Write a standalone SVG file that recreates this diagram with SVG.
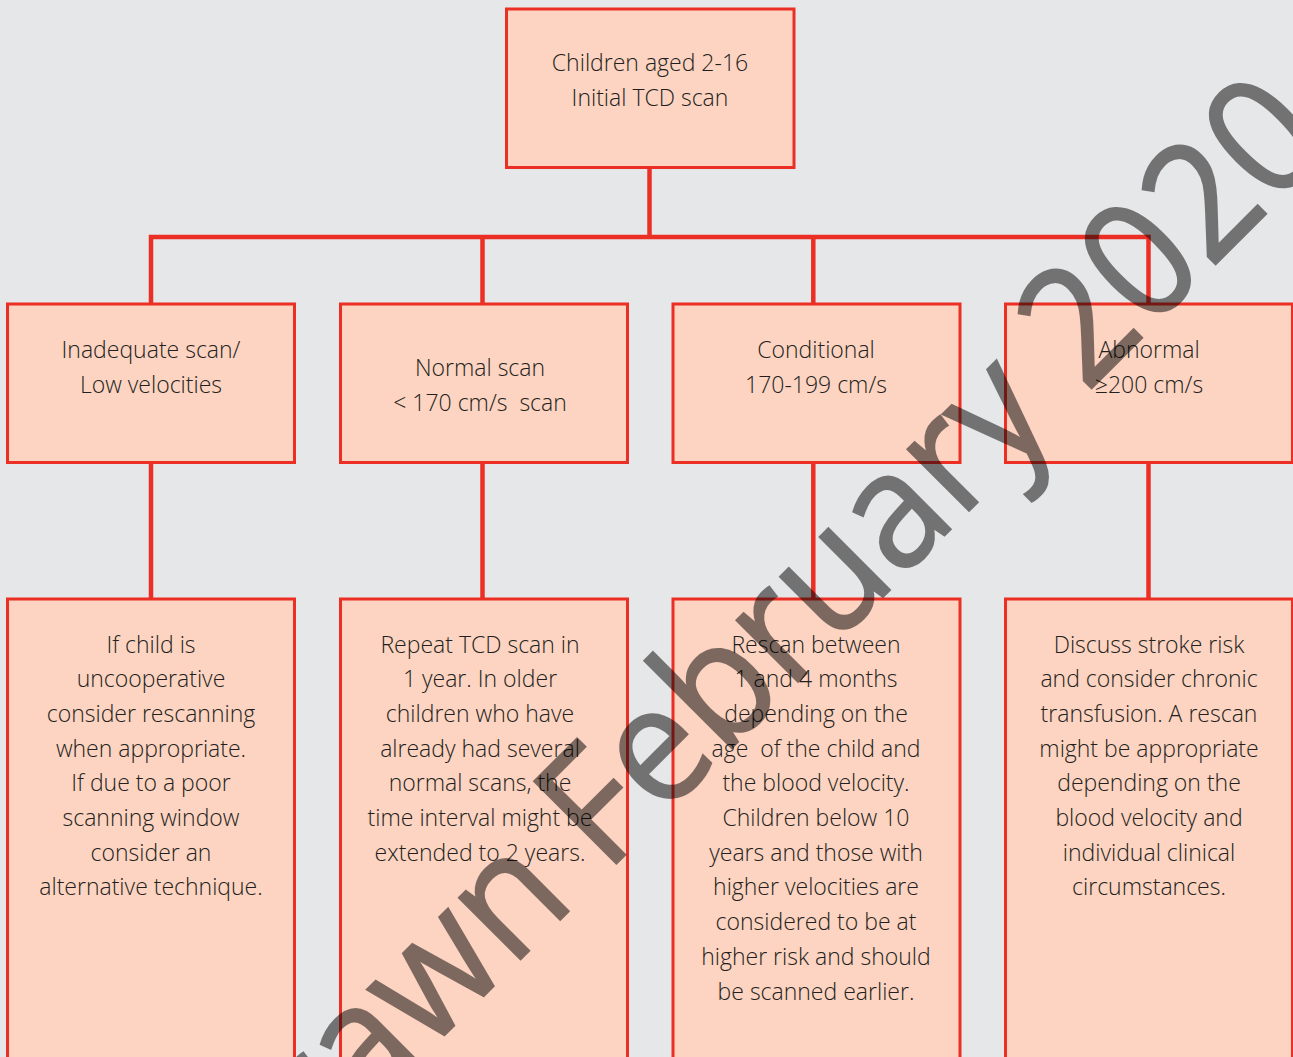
<svg xmlns="http://www.w3.org/2000/svg" width="1293" height="1057" viewBox="0 0 1293 1057">
<style>
.bg{fill:#e6e7e9}
.box{fill:#fdd3c1;stroke:#ec2f25;stroke-width:3}
.con{fill:none;stroke:#ec2f25;stroke-width:4.5;stroke-linejoin:miter}
.t{font-family:"Open Sans","Liberation Sans",sans-serif;font-weight:300;font-size:23px;fill:#231f20;text-anchor:middle}
.wm{font-family:"Open Sans","Liberation Sans",sans-serif;font-weight:400;font-size:163px;fill:#000;stroke:#000;stroke-width:2}
</style>
<rect class="bg" x="0" y="0" width="1293" height="1057"/>
<g id="connectors">
<path class="con" d="M649.5 167.5 V237"/>
<path class="con" d="M151 304 V237 H1148.5 V304"/>
<path class="con" d="M482.5 237 V304"/>
<path class="con" d="M813.3 237 V304"/>
<path class="con" d="M151 462.5 V599"/>
<path class="con" d="M482.5 462.5 V599"/>
<path class="con" d="M813.3 462.5 V599"/>
<path class="con" d="M1148.5 462.5 V599"/>
</g>
<g id="n0">
<rect class="box" x="506.5" y="9" width="287.5" height="158.5"/>
<text class="t" x="650" y="71">Children aged 2-16</text>
<text class="t" x="650" y="106">Initial TCD scan</text>
</g>
<g id="n1">
<rect class="box" x="7.5" y="304" width="287" height="158.5"/>
<text class="t" x="151" y="358">Inadequate scan/</text>
<text class="t" x="151" y="393">Low velocities</text>
</g>
<g id="n2">
<rect class="box" x="340.5" y="304" width="287" height="158.5"/>
<text class="t" x="480" y="376">Normal scan</text>
<text class="t" x="480" y="411" xml:space="preserve">&lt; 170 cm/s  scan</text>
</g>
<g id="n3">
<rect class="box" x="673" y="304" width="287" height="158.5"/>
<text class="t" x="816" y="358">Conditional</text>
<text class="t" x="816" y="393">170-199 cm/s</text>
</g>
<g id="n4">
<rect class="box" x="1005.5" y="304" width="287" height="158.5"/>
<text class="t" x="1149" y="358">Abnormal</text>
<text class="t" x="1149" y="393">≥200 cm/s</text>
</g>
<g id="n5">
<rect class="box" x="7.5" y="599" width="287" height="480"/>
<text class="t" x="151" y="652.5">If child is</text>
<text class="t" x="151" y="687.2">uncooperative</text>
<text class="t" x="151" y="721.9">consider rescanning</text>
<text class="t" x="151" y="756.6">when appropriate.</text>
<text class="t" x="151" y="791.3">If due to a poor</text>
<text class="t" x="151" y="826">scanning window</text>
<text class="t" x="151" y="860.7">consider an</text>
<text class="t" x="151" y="895.4">alternative technique.</text>
</g>
<g id="n6">
<rect class="box" x="340.5" y="599" width="287" height="480"/>
<text class="t" x="480" y="652.5">Repeat TCD scan in</text>
<text class="t" x="480" y="687.2">1 year. In older</text>
<text class="t" x="480" y="721.9">children who have</text>
<text class="t" x="480" y="756.6">already had several</text>
<text class="t" x="480" y="791.3">normal scans, the</text>
<text class="t" x="480" y="826">time interval might be</text>
<text class="t" x="480" y="860.7">extended to 2 years.</text>
</g>
<g id="n7">
<rect class="box" x="673" y="599" width="287" height="480"/>
<text class="t" x="816" y="652.5">Rescan between</text>
<text class="t" x="816" y="687.2">1 and 4 months</text>
<text class="t" x="816" y="721.9">depending on the</text>
<text class="t" x="816" y="756.6" xml:space="preserve">age  of the child and</text>
<text class="t" x="816" y="791.3">the blood velocity.</text>
<text class="t" x="816" y="826">Children below 10</text>
<text class="t" x="816" y="860.7">years and those with</text>
<text class="t" x="816" y="895.4">higher velocities are</text>
<text class="t" x="816" y="930.1">considered to be at</text>
<text class="t" x="816" y="964.8">higher risk and should</text>
<text class="t" x="816" y="999.5">be scanned earlier.</text>
</g>
<g id="n8">
<rect class="box" x="1005.5" y="599" width="287" height="480"/>
<text class="t" x="1149" y="652.5">Discuss stroke risk</text>
<text class="t" x="1149" y="687.2">and consider chronic</text>
<text class="t" x="1149" y="721.9">transfusion. A rescan</text>
<text class="t" x="1149" y="756.6">might be appropriate</text>
<text class="t" x="1149" y="791.3">depending on the</text>
<text class="t" x="1149" y="826">blood velocity and</text>
<text class="t" x="1149" y="860.7">individual clinical</text>
<text class="t" x="1149" y="895.4">circumstances.</text>
</g>
<g id="watermark" opacity="0.5">
<text class="wm" x="0" y="0" transform="translate(24 1456) rotate(-45) scale(0.94 1)">Withdrawn February 2020</text>
</g>
</svg>
